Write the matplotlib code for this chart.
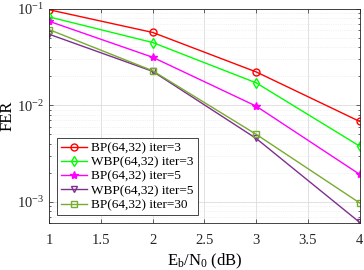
import matplotlib
matplotlib.use('Agg')
import matplotlib.pyplot as plt
from matplotlib.ticker import LogLocator, NullFormatter

snr = [1, 2, 3, 4]
bp_it3 = [0.098, 0.057, 0.0222, 0.0068]
wbp_it3 = [0.0826, 0.0448, 0.0171, 0.00377]
bp_it5 = [0.0744, 0.0315, 0.0098, 0.00192]
wbp_it5 = [0.0546, 0.0225, 0.00453, 0.00061]
bp_it30 = [0.061, 0.0228, 0.0050, 0.00097]

labels = ['BP(64,32) iter=3', 'WBP(64,32) iter=3', 'BP(64,32) iter=5',
          'WBP(64,32) iter=5', 'BP(64,32) iter=30']

plt.rcParams['font.family'] = 'Liberation Serif'
plt.rcParams['mathtext.fontset'] = 'custom'
plt.rcParams['mathtext.rm'] = 'Liberation Serif'
plt.rcParams['mathtext.it'] = 'Liberation Serif:italic'
plt.rcParams['font.size'] = 10.5

fig = plt.figure(figsize=(3.64, 2.70), dpi=100)
ax = fig.add_axes([0.135, 0.174, 0.853, 0.793])

ax.semilogy(snr, bp_it3, 'o-', color='#FF0000', mfc='none', ms=5, lw=1, label=labels[0])
ax.semilogy(snr, wbp_it3, 'd-', color='#00FF00', mfc='none', ms=5, lw=1, label=labels[1])
ax.semilogy(snr, bp_it5, '*-', color='#FF00FF', ms=6, lw=1, label=labels[2])
ax.semilogy(snr, wbp_it5, 'v-', color='#7E2F8E', mfc='none', ms=5, lw=1, label=labels[3])
ax.semilogy(snr, bp_it30, 's-', color='#77AC30', mfc='none', ms=4.5, lw=1, label=labels[4])

ax.set_xlim(1, 4)
ax.set_ylim(6e-4, 0.1)
ax.set_xticks([1, 1.5, 2, 2.5, 3, 3.5, 4])
ax.set_xticklabels(['1', '1.5', '2', '2.5', '3', '3.5', '4'])
ax.yaxis.set_major_locator(LogLocator(base=10, numticks=10))
ax.yaxis.set_minor_locator(LogLocator(base=10, subs=range(2, 10), numticks=10))
ax.yaxis.set_minor_formatter(NullFormatter())

ax.grid(True, which='major', color='#DCDCDC', lw=0.6)
ax.grid(True, which='minor', axis='y', color='#E6E6E6', lw=0.5, ls=':')
ax.set_axisbelow(True)
for s in ax.spines.values():
    s.set_color('#262626')
    s.set_linewidth(0.6)
ax.tick_params(which='both', direction='in', top=True, right=True, colors='#262626', width=0.5)
ax.tick_params(which='major', length=3)
ax.tick_params(which='minor', length=1.5)
ax.tick_params(axis='x', pad=8)

ax.set_xlabel(r'$\mathregular{E_b/N_0}$ (dB)', fontsize=12, labelpad=3)
ax.set_ylabel('FER', fontsize=12, labelpad=1)

leg = ax.legend(loc='lower left', fontsize=9.5, fancybox=False, framealpha=1,
                edgecolor='#262626', borderpad=0.3, labelspacing=0.15,
                handlelength=2.0, handletextpad=0.3, borderaxespad=0.6)
leg.get_frame().set_linewidth(0.6)

fig.savefig('out.png', dpi=100)
